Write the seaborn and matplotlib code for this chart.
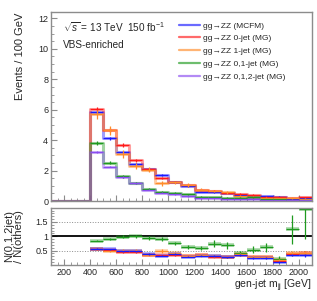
import numpy as np
import matplotlib
matplotlib.use("Agg")
import matplotlib.pyplot as plt
from matplotlib.lines import Line2D
from matplotlib.ticker import MultipleLocator, FixedLocator
import seaborn as sns

# bins: 100 GeV wide, 100 -> 2100 GeV (first three bins empty)
bin_edges = [100, 200, 300, 400, 500, 600, 700, 800, 900, 1000, 1100,
             1200, 1300, 1400, 1500, 1600, 1700, 1800, 1900, 2000, 2100]

labels = ["gg\u2192ZZ (MCFM)", "gg\u2192ZZ 0-jet (MG)", "gg\u2192ZZ 1-jet (MG)",
          "gg\u2192ZZ 0,1-jet (MG)", "gg\u2192ZZ 0,1,2-jet (MG)"]
colors = ["#1a1aff", "#ff1a1a", "#ff8c2a", "#1f9a1f", "#8a4cf0"]

# events per bin
mcfm   = [0, 0, 0, 5.82, 4.13, 3.21, 2.42, 2.09, 1.70, 1.26, 1.00, 0.61, 0.57, 0.55, 0.40, 0.24, 0.33, 0.29, 0.15, 0.20]
jet0   = [0, 0, 0, 6.02, 4.68, 3.69, 2.68, 2.09, 1.52, 1.28, 1.05, 0.76, 0.68, 0.55, 0.46, 0.40, 0.29, 0.24, 0.20, 0.24]
jet1   = [0, 0, 0, 5.70, 4.66, 3.08, 2.31, 2.05, 1.17, 1.22, 1.05, 0.76, 0.68, 0.57, 0.35, 0.29, 0.20, 0.18, 0.20, 0.15]
jet01  = [0, 0, 0, 3.80, 2.52, 1.62, 1.21, 0.80, 0.61, 0.55, 0.44, 0.29, 0.24, 0.22, 0.22, 0.24, 0.13, 0.11, 0.07, 0.04]
jet012 = [0, 0, 0, 3.25, 2.26, 1.58, 1.16, 0.74, 0.55, 0.44, 0.31, 0.18, 0.18, 0.13, 0.11, 0.11, 0.07, 0.06, 0.07, 0.04]

# stat. errors on the main panel
mcfm_err   = [0, 0, 0, 0.10, 0.09, 0.08, 0.07, 0.06, 0.06, 0.05, 0.05, 0.04, 0.04, 0.04, 0.03, 0.03, 0.03, 0.03, 0.02, 0.02]
jet0_err   = [0, 0, 0, 0.16, 0.14, 0.12, 0.11, 0.09, 0.08, 0.07, 0.07, 0.06, 0.05, 0.05, 0.04, 0.04, 0.04, 0.03, 0.03, 0.03]
jet1_err   = [0, 0, 0, 0.28, 0.30, 0.28, 0.20, 0.17, 0.15, 0.13, 0.12, 0.10, 0.08, 0.08, 0.07, 0.06, 0.05, 0.05, 0.05, 0.04]
jet01_err  = [0, 0, 0, 0.12, 0.10, 0.08, 0.06, 0.05, 0.04, 0.04, 0.03, 0.03, 0.03, 0.02, 0.02, 0.02, 0.02, 0.02, 0.01, 0.01]
jet012_err = [0, 0, 0, 0.06, 0.05, 0.04, 0.03, 0.03, 0.02, 0.02, 0.02, 0.02, 0.01, 0.01, 0.01, 0.01, 0.01, 0.01, 0.01, 0.01]

# ratio N(0,1,2jet) / N(others), bins 400 -> 2100
ratio_edges = bin_edges[3:]
r_jet01 = [0.85, 0.91, 0.99, 1.00, 0.94, 0.91, 0.75, 0.63, 0.59, 0.74, 0.68, 0.41, 0.53, 0.61, 0.22, 1.24, 1.94]
r_jet0  = [0.55, 0.52, 0.44, 0.44, 0.36, 0.33, 0.33, 0.32, 0.34, 0.29, 0.29, 0.36, 0.29, 0.28, 0.14, 0.38, 0.41]
r_jet1  = [0.54, 0.49, 0.50, 0.50, 0.36, 0.49, 0.40, 0.32, 0.33, 0.30, 0.28, 0.37, 0.29, 0.26, 0.16, 0.40, 0.40]
r_mcfm  = [0.56, 0.55, 0.47, 0.47, 0.38, 0.32, 0.38, 0.29, 0.32, 0.31, 0.26, 0.34, 0.25, 0.23, 0.10, 0.34, 0.34]
r_jet01_err = [0.03, 0.04, 0.05, 0.06, 0.07, 0.08, 0.06, 0.08, 0.07, 0.12, 0.12, 0.08, 0.12, 0.17, 0.08, 0.50, 1.05]
r_jet0_err  = [0.02, 0.02, 0.02, 0.02, 0.02, 0.02, 0.02, 0.02, 0.02, 0.03, 0.03, 0.03, 0.03, 0.03, 0.03, 0.05, 0.06]
r_jet1_err  = [0.03, 0.04, 0.04, 0.04, 0.04, 0.06, 0.05, 0.04, 0.04, 0.05, 0.04, 0.06, 0.05, 0.05, 0.05, 0.10, 0.10]
r_mcfm_err  = [0.02, 0.02, 0.02, 0.02, 0.02, 0.02, 0.02, 0.02, 0.02, 0.02, 0.02, 0.03, 0.03, 0.03, 0.03, 0.04, 0.05]

sns.set_theme(style="ticks")
plt.rcParams['font.family'] = ['Liberation Sans', 'DejaVu Sans']
plt.rcParams['mathtext.fontset'] = 'custom'
plt.rcParams['mathtext.rm'] = 'Liberation Sans'
plt.rcParams['mathtext.it'] = 'Liberation Sans:italic'

GRAY = "#8c8c8c"

fig = plt.figure(figsize=(3.17, 3.01), dpi=100)
ax = fig.add_axes([0.161, 0.332, 0.823, 0.627])
ax2 = fig.add_axes([0.161, 0.120, 0.823, 0.190])

centers = [(a + b) / 2 for a, b in zip(bin_edges[:-1], bin_edges[1:])]
series = [(mcfm, mcfm_err), (jet0, jet0_err), (jet1, jet1_err),
          (jet01, jet01_err), (jet012, jet012_err)]

for (vals, errs), c in zip(series, colors):
    sns.histplot(x=centers, weights=vals, bins=bin_edges, element="step",
                 fill=False, color=c, linewidth=2.2, alpha=0.42, ax=ax)
for (vals, errs), c in zip(series, colors):
    ax.errorbar(centers[3:], vals[3:], xerr=50, yerr=errs[3:], fmt="none",
                ecolor=c, elinewidth=0.9, capsize=0)

ax.set_xlim(100, 2100)
ax.set_ylim(0, 12.4)
ax.set_xlabel("")
ax.set_ylabel("Events / 100 GeV", fontsize=8, loc="top")
ax.yaxis.set_label_coords(-0.10, 1.0)
ax.xaxis.set_major_locator(MultipleLocator(200))
ax.xaxis.set_minor_locator(MultipleLocator(50))
ax.yaxis.set_major_locator(MultipleLocator(2))
ax.yaxis.set_minor_locator(MultipleLocator(0.5))
ax.tick_params(axis="x", which="both", labelbottom=False)

ax.text(0.045, 0.92, r"$\sqrt{s}$ = 13 TeV  150 fb$^{-1}$", transform=ax.transAxes,
        fontsize=7.2, va="center")
ax.text(0.045, 0.825, "VBS-enriched", transform=ax.transAxes, fontsize=7.2, va="center")

handles = [Line2D([], [], color=c, lw=1.6, alpha=0.65) for c in colors]
ax.legend(handles, labels, loc="upper left", bbox_to_anchor=(0.565, 0.928),
          bbox_transform=fig.transFigure, frameon=False, fontsize=6,
          handlelength=2.5, handletextpad=0.4, labelspacing=0.6, borderpad=0,
          borderaxespad=0)

# ratio panel
rc = [(a + b) / 2 for a, b in zip(ratio_edges[:-1], ratio_edges[1:])]
ax2.axhline(1.5, color=GRAY, lw=0.7, ls=":")
ax2.axhline(0.5, color=GRAY, lw=0.7, ls=":")
ax2.axhline(1.0, color="black", lw=1.3)
ratios = [(r_jet01, r_jet01_err, colors[3]), (r_jet0, r_jet0_err, colors[1]),
          (r_jet1, r_jet1_err, colors[2]), (r_mcfm, r_mcfm_err, colors[0])]
for vals, errs, c in ratios:
    ax2.hlines(vals, ratio_edges[:-1], ratio_edges[1:], colors=c, lw=2.6, alpha=0.4)
for vals, errs, c in ratios:
    ax2.errorbar(rc, vals, xerr=50, yerr=errs, fmt="none", ecolor=c,
                 elinewidth=0.9, capsize=0)

ax2.set_xlim(100, 2100)
ax2.set_ylim(0, 2)
ax2.yaxis.set_major_locator(FixedLocator([0.5, 1, 1.5]))
ax2.set_yticklabels(["0.5", "1", "1.5"])
ax2.yaxis.set_minor_locator(MultipleLocator(0.1))
ax2.xaxis.set_major_locator(MultipleLocator(200))
ax2.xaxis.set_minor_locator(MultipleLocator(50))
ax2.set_ylabel("N(0,1,2jet)\n/ N(others)", fontsize=8, linespacing=1.0)
ax2.yaxis.set_label_coords(-0.105, 0.5)
ax2.set_xlabel(r"gen-jet m$_{\rm jj}$ [GeV]", fontsize=7.5, loc="right")
ax2.xaxis.set_label_coords(1.0, -0.22)

for a in (ax, ax2):
    for s in a.spines.values():
        s.set_color(GRAY)
        s.set_linewidth(1.0)
    a.tick_params(which="both", direction="in", color=GRAY, labelsize=6.5, pad=2)
    a.tick_params(which="major", length=4, width=0.8)
    a.tick_params(which="minor", length=2, width=0.6)

fig.savefig("out.png", dpi=100)
